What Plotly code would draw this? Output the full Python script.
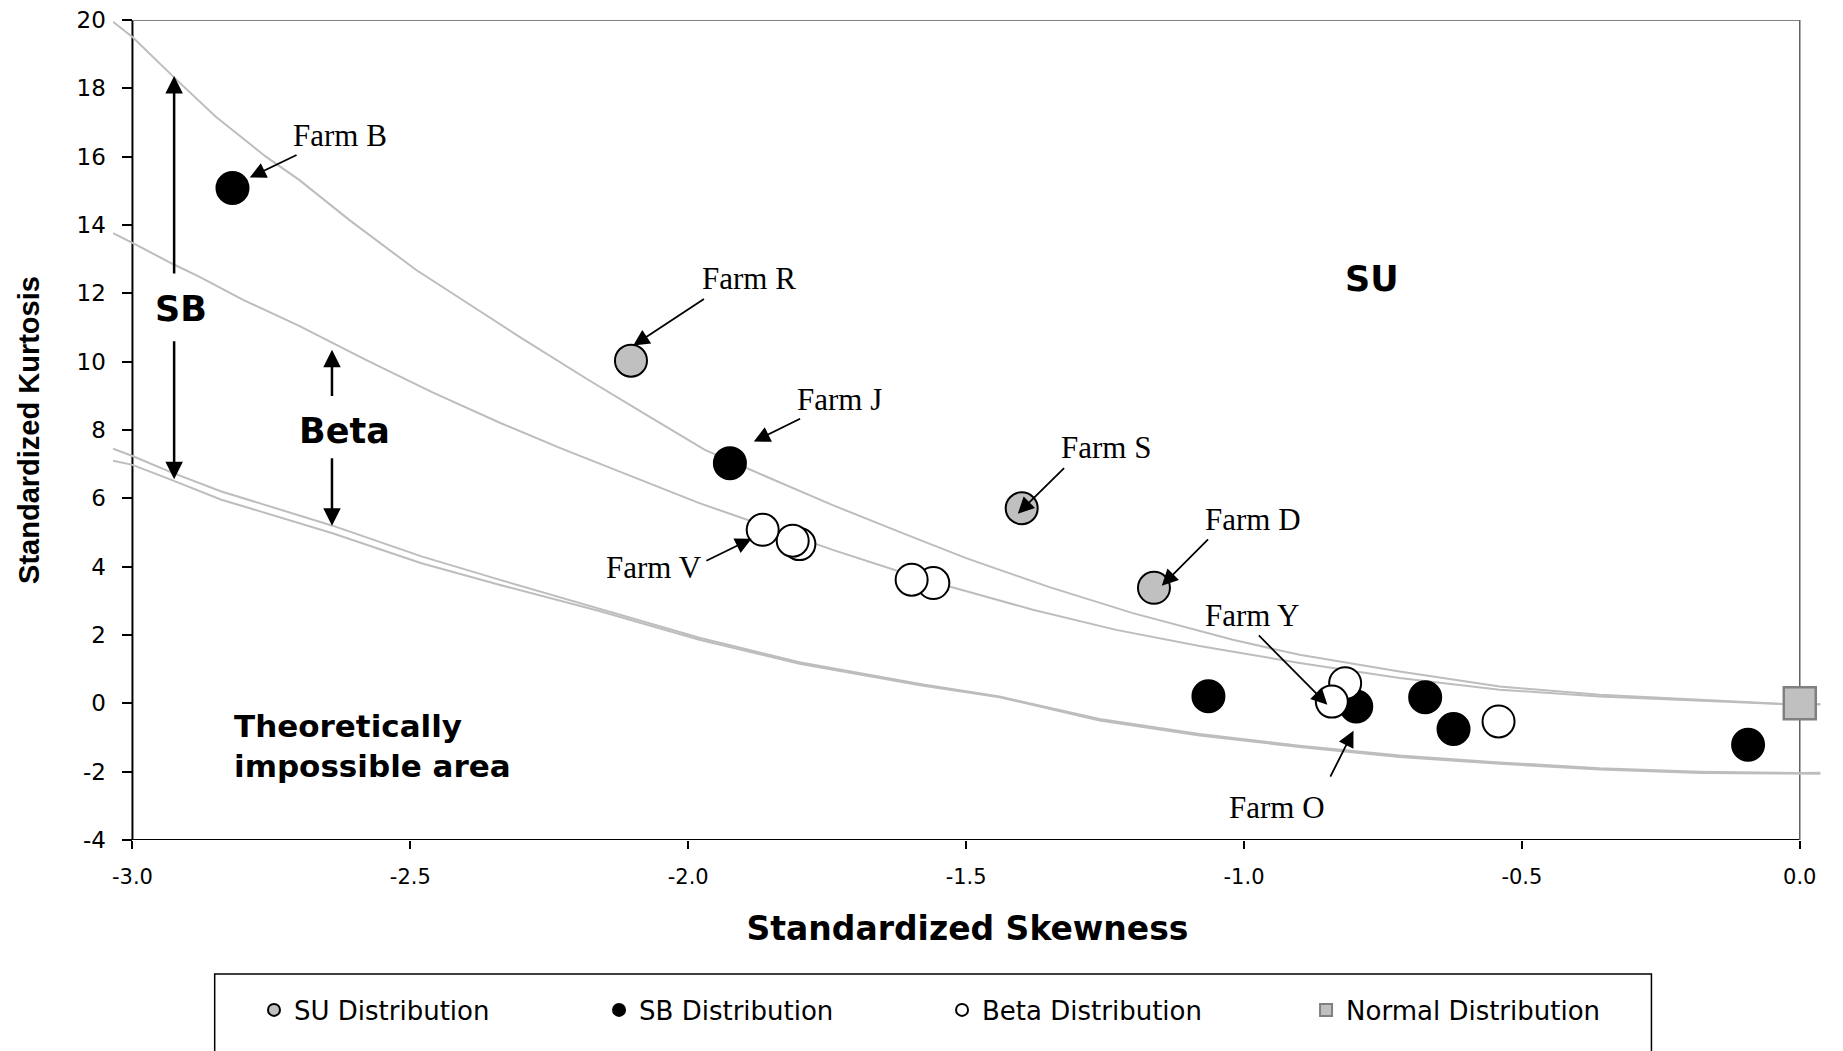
import plotly.graph_objects as go

# ---------------- data ----------------
su_x = [-2.103, -1.400, -1.162]
su_y = [10.03, 5.71, 3.38]

sb_x = [-2.820, -1.925, -1.064, -0.798, -0.674, -0.623, -0.093]
sb_y = [15.08, 7.03, 0.21, -0.09, 0.18, -0.75, -1.21]

beta_x = [-0.542, -0.818, -0.842, -1.559, -1.598, -1.800, -1.812, -1.866]
beta_y = [-0.53, 0.59, 0.05, 3.52, 3.62, 4.66, 4.76, 5.08]

normal_x = [0.0]
normal_y = [0.0]

# boundary curves
su_sb_x = [-3.035, -3.0, -2.92, -2.85, -2.76, -2.70, -2.61, -2.49, -2.30, -2.18, -2.07,
           -1.97, -1.86, -1.74, -1.62, -1.50, -1.35, -1.20, -1.02, -0.90, -0.72, -0.54,
           -0.36, -0.18, -0.035, 0.037]
su_sb_y = [19.95, 19.5, 18.24, 17.17, 16.0, 15.32, 14.15, 12.69, 10.69, 9.47, 8.39,
           7.42, 6.64, 5.80, 5.02, 4.25, 3.40, 2.64, 1.86, 1.42, 0.93, 0.49,
           0.25, 0.11, -0.01, -0.03]

sb_beta_x = [-3.035, -3.0, -2.93, -2.88, -2.80, -2.70, -2.64, -2.58, -2.46, -2.34, -2.23,
             -2.10, -1.98, -1.86, -1.74, -1.62, -1.53, -1.38, -1.23, -1.08, -0.90, -0.72,
             -0.54, -0.36, -0.18, -0.035, 0.037]
sb_beta_y = [13.76, 13.48, 12.88, 12.49, 11.80, 11.05, 10.55, 10.05, 9.10, 8.22, 7.47,
             6.64, 5.86, 5.18, 4.49, 3.86, 3.42, 2.74, 2.15, 1.68, 1.18, 0.74,
             0.40, 0.20, 0.08, -0.02, -0.03]

limit_x = [-3.035, -3.0, -2.93, -2.84, -2.64, -2.48, -2.34, -2.16, -1.98, -1.80, -1.58,
           -1.44, -1.26, -1.08, -0.90, -0.72, -0.54, -0.36, -0.18, 0.0, 0.037]
limit_a_y = [7.45, 7.24, 6.76, 6.20, 5.20, 4.30, 3.62, 2.76, 1.92, 1.20, 0.56,
             0.20, -0.46, -0.90, -1.24, -1.53, -1.73, -1.90, -2.00, -2.04, -2.03]
limit_b_y = [7.10, 6.98, 6.54, 5.96, 4.98, 4.10, 3.47, 2.70, 1.86, 1.16, 0.52,
             0.18, -0.50, -0.94, -1.28, -1.57, -1.77, -1.94, -2.04, -2.07, -2.06]

x_tick_vals = [-3.0, -2.5, -2.0, -1.5, -1.0, -0.5, 0.0]
x_tick_text = ["-3.0", "-2.5", "-2.0", "-1.5", "-1.0", "-0.5", "0.0"]
y_tick_vals = [-4, -2, 0, 2, 4, 6, 8, 10, 12, 14, 16, 18, 20]
y_tick_text = ["-4", "-2", "0", "2", "4", "6", "8", "10", "12", "14", "16", "18", "20"]

series_names = ["SU Distribution", "SB Distribution", "Beta Distribution", "Normal Distribution"]

farm_names = ["Farm B", "Farm R", "Farm J", "Farm S", "Farm D", "Farm Y", "Farm V", "Farm O"]

# ---------------- styling / layout ----------------
X_RANGE = [-3.035, 0.04]
Y_RANGE = [-4, 20]
x_lo, x_hi = x_tick_vals[0], x_tick_vals[-1]
y_lo, y_hi = y_tick_vals[0], y_tick_vals[-1]

CURVE = dict(color="#bdbdbd", width=2)
MSIZE = 32

fig = go.Figure()
for cx, cy in [(su_sb_x, su_sb_y), (sb_beta_x, sb_beta_y), (limit_x, limit_a_y), (limit_x, limit_b_y)]:
    fig.add_trace(go.Scatter(x=cx, y=cy, mode="lines", line=CURVE, showlegend=False,
                             hoverinfo="skip"))

fig.add_trace(go.Scatter(x=su_x, y=su_y, mode="markers", name=series_names[0], legend="legend",
                         marker=dict(symbol="circle", size=MSIZE, color="#c0c0c0",
                                     line=dict(color="black", width=2)), cliponaxis=False))
fig.add_trace(go.Scatter(x=sb_x, y=sb_y, mode="markers", name=series_names[1], legend="legend2",
                         marker=dict(symbol="circle", size=MSIZE, color="black",
                                     line=dict(color="black", width=2)), cliponaxis=False))
fig.add_trace(go.Scatter(x=beta_x, y=beta_y, mode="markers", name=series_names[2], legend="legend3",
                         marker=dict(symbol="circle", size=MSIZE, color="white",
                                     line=dict(color="black", width=2)), cliponaxis=False))
fig.add_trace(go.Scatter(x=normal_x, y=normal_y, mode="markers", name=series_names[3], legend="legend4",
                         marker=dict(symbol="square", size=MSIZE, color="#c0c0c0",
                                     line=dict(color="#808080", width=2.5)), cliponaxis=False))

annotations = []
# farm labels: (text centre x, y), (arrow tail x, y), (arrow head x, y)
farm_layout = [
    ((-2.627, 16.62), (-2.702, 16.07), (-2.789, 15.39)),
    ((-1.891, 12.42), (-1.969, 11.86), (-2.099, 10.47)),
    ((-1.727, 8.90), (-1.796, 8.35), (-1.882, 7.66)),
    ((-1.248, 7.49), (-1.321, 6.93), (-1.407, 5.55)),
    ((-0.984, 5.37), (-1.062, 4.84), (-1.148, 3.44)),
    ((-0.985, 2.56), (-0.976, 2.03), (-0.850, -0.04)),
    ((-2.062, 3.98), (-1.970, 4.15), (-1.886, 4.82)),
    ((-0.940, -3.04), (-0.846, -2.19), (-0.803, -0.80)),
]
for name, (tpos, tail, head) in zip(farm_names, farm_layout):
    annotations.append(dict(x=tpos[0], y=tpos[1], xref="x", yref="y", text=name,
                            showarrow=False, xanchor="center", yanchor="middle",
                            font=dict(family="Liberation Serif", size=31, color="black")))
    annotations.append(dict(x=head[0], y=head[1], ax=tail[0], ay=tail[1], xref="x", yref="y",
                            axref="x", ayref="y", text="", showarrow=True, arrowhead=2,
                            arrowsize=1.8, arrowwidth=1.8, arrowcolor="black", standoff=0))

# region arrows (SB and Beta)
region_arrows = [
    ((-2.925, 12.54), (-2.925, 18.36)),
    ((-2.925, 10.64), (-2.925, 6.56)),
    ((-2.641, 8.95), (-2.641, 10.35)),
    ((-2.641, 7.22), (-2.641, 5.20)),
]
for tail, head in region_arrows:
    annotations.append(dict(x=head[0], y=head[1], ax=tail[0], ay=tail[1], xref="x", yref="y",
                            axref="x", ayref="y", text="", showarrow=True, arrowhead=2,
                            arrowsize=1.4, arrowwidth=2.5, arrowcolor="black", standoff=0))

BOLD = dict(family="DejaVu Sans", size=31, color="black")
BIG = dict(family="DejaVu Sans", size=35, color="black")
annotations += [
    dict(x=-2.913, y=11.54, xref="x", yref="y", text="<b>SB</b>", showarrow=False, font=BIG),
    dict(x=-2.618, y=7.98, xref="x", yref="y", text="<b>Beta</b>", showarrow=False, font=BIG),
    dict(x=-0.770, y=12.42, xref="x", yref="y", text="<b>SU</b>", showarrow=False, font=BIG),
    dict(x=-2.820, y=-1.24, xref="x", yref="y", text="<b>Theoretically<br>impossible area</b>",
         showarrow=False, xanchor="left", yanchor="middle", align="left", font=BOLD),
]

shapes = [
    dict(type="line", xref="x", yref="y", x0=x_lo, x1=x_lo, y0=y_lo, y1=y_hi,
         line=dict(color="black", width=2), layer="below"),
    dict(type="line", xref="x", yref="y", x0=x_lo, x1=x_hi, y0=y_lo, y1=y_lo,
         line=dict(color="black", width=2), layer="below"),
    dict(type="line", xref="x", yref="y", x0=x_lo, x1=x_hi, y0=y_hi, y1=y_hi,
         line=dict(color="#808080", width=2), layer="below"),
    dict(type="line", xref="x", yref="y", x0=x_hi, x1=x_hi, y0=y_lo, y1=y_hi,
         line=dict(color="#606060", width=1.5), layer="below"),
    # legend frame
    dict(type="rect", xref="paper", yref="paper", x0=0.0595, x1=0.9002, y0=-0.268, y1=-0.1633,
         line=dict(color="black", width=1.5), fillcolor="rgba(0,0,0,0)"),
]

yaxis_pos = (x_lo - X_RANGE[0]) / (X_RANGE[1] - X_RANGE[0])

LEG_FONT = dict(family="DejaVu Sans", size=26, color="black")
def leg(xp):
    return dict(x=xp, y=-0.2073, xanchor="left", yanchor="middle", orientation="h",
                font=LEG_FONT, itemsizing="constant", bgcolor="rgba(0,0,0,0)", borderwidth=0)

# page has an 8px body margin, so the figure is drawn 8px smaller and offset
fig.update_layout(
    width=1835, height=1043,
    margin=dict(l=105, r=21, t=12, b=211, autoexpand=False),
    paper_bgcolor="white", plot_bgcolor="white",
    font=dict(family="DejaVu Sans", color="black"),
    xaxis=dict(range=X_RANGE, showgrid=False, zeroline=False, showline=False,
               tickvals=x_tick_vals, ticktext=x_tick_text, ticks="outside", ticklen=8,
               tickwidth=2, tickcolor="black", tickfont=dict(family="DejaVu Sans", size=21),
               ticklabelstandoff=10, ticklabeloverflow="allow",
               title=dict(text="<b>Standardized Skewness</b>", standoff=28,
                          font=dict(family="DejaVu Sans", size=33)),
               automargin=False),
    yaxis=dict(range=Y_RANGE, showgrid=False, zeroline=False, showline=False,
               anchor="free", position=yaxis_pos,
               tickvals=y_tick_vals, ticktext=y_tick_text, ticks="outside", ticklen=10,
               tickwidth=2, tickcolor="black", tickfont=dict(family="DejaVu Sans", size=23),
               ticklabelstandoff=12, ticklabeloverflow="allow",
               title=dict(text="<b>Standardized Kurtosis</b>", standoff=27,
                          font=dict(family="Liberation Sans", size=29)),
               automargin=False),
    annotations=annotations,
    shapes=shapes,
    legend=leg(0.0825), legend2=leg(0.2844), legend3=leg(0.4851), legend4=leg(0.6981),
)

fig.write_html("out.html")
